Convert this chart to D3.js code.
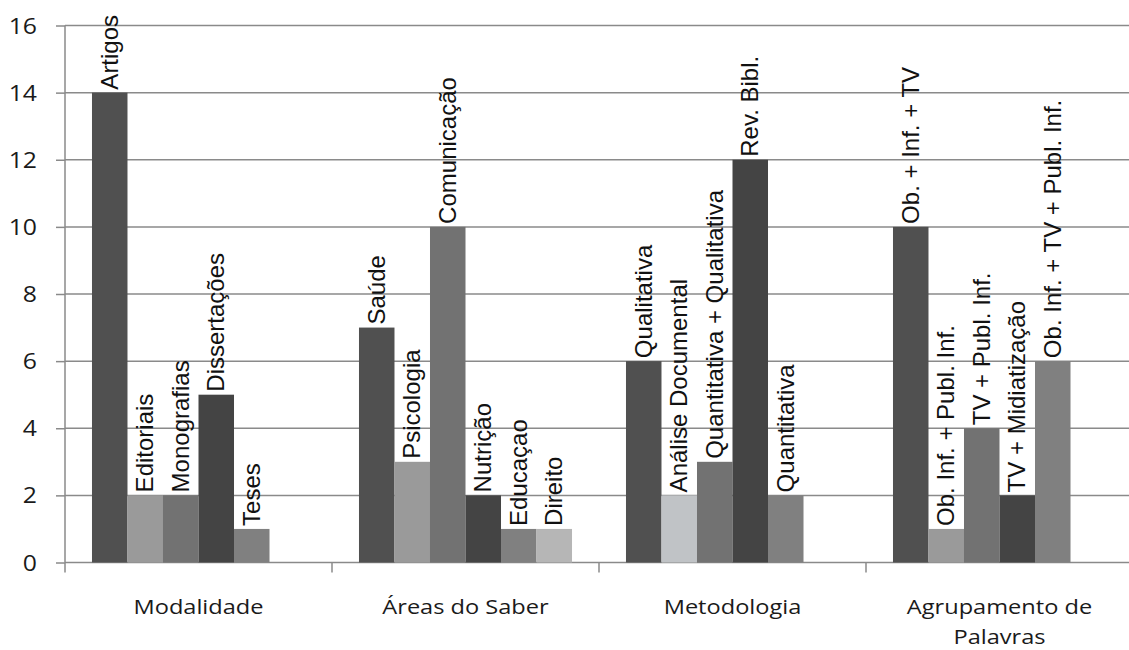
<!DOCTYPE html>
<html>
<head>
<meta charset="utf-8">
<script src="https://cdn.jsdelivr.net/npm/d3@7"></script>
<style>
  html, body { margin: 0; padding: 0; background: #ffffff; }
  svg { display: block; }
</style>
</head>
<body>
<svg id="chart" width="1129" height="650"></svg>
<script>
// Groups along the x axis
const groups = ["Modalidade", "Áreas do Saber", "Metodologia", "Agrupamento de Palavras"];

// Bar names and counts for each group
const modalidadeNames = ["Artigos", "Editoriais", "Monografias", "Dissertações", "Teses"];
const modalidadeValues = [14, 2, 2, 5, 1];

const areasNames = ["Saúde", "Psicologia", "Comunicação", "Nutrição", "Educaçao", "Direito"];
const areasValues = [7, 3, 10, 2, 1, 1];

const metodologiaNames = ["Qualitativa", "Análise Documental", "Quantitativa + Qualitativa", "Rev. Bibl.", "Quantitativa"];
const metodologiaValues = [6, 2, 3, 12, 2];

const agrupamentoNames = ["Ob. + Inf. + TV", "Ob. Inf. + Publ. Inf.", "TV + Publ. Inf.", "TV + Midiatização", "Ob. Inf. + TV + Publ. Inf."];
const agrupamentoValues = [10, 1, 4, 2, 6];

const yTicks = [0, 2, 4, 6, 8, 10, 12, 14, 16];

// Gray shades per bar slot
const slotShades = ["#505050", "#9a9a9a", "#727272", "#444444", "#808080", "#b6b6b6"];
const metodologiaShades = ["#505050", "#c0c3c6", "#727272", "#444444", "#808080"];

const groupNames = [modalidadeNames, areasNames, metodologiaNames, agrupamentoNames];
const groupValues = [modalidadeValues, areasValues, metodologiaValues, agrupamentoValues];
const groupShades = [slotShades, slotShades, metodologiaShades, slotShades];

const svg = d3.select("#chart");
const plotLeft = 65, plotRight = 1133, plotTop = 25.5, plotBottom = 562.5;
const gridColor = "#8a8a8a";
const axisFont = "'Open Sans', 'Liberation Sans', sans-serif";
const labelFont = "'Liberation Sans', Arial, sans-serif";
const stretch = 1.18;

const x = d3.scaleBand().domain(groups).range([plotLeft, plotRight]).padding(0);
const maxSlots = d3.max(groupValues, v => v.length);
const slot = d3.scaleBand().domain(d3.range(maxSlots)).range([0, x.bandwidth()]).paddingOuter(0.76).paddingInner(0);
const y = d3.scaleLinear().domain([0, 16]).range([plotBottom, plotTop]);

// Horizontal gridlines
svg.append("g")
  .selectAll("line")
  .data(yTicks.filter(t => t > 0))
  .join("line")
  .attr("x1", plotLeft).attr("x2", 1129)
  .attr("y1", d => y(d)).attr("y2", d => y(d))
  .attr("stroke", gridColor).attr("stroke-width", 1.5);

// Y axis
const yAxis = svg.append("g")
  .attr("transform", `translate(${plotLeft},0)`)
  .call(d3.axisLeft(y).tickValues(yTicks).tickSize(9).tickPadding(0).tickFormat(d3.format("d")));
yAxis.select(".domain").attr("stroke", gridColor).attr("stroke-width", 1.5).attr("d", `M0,${plotTop}V${plotBottom}`);
yAxis.selectAll(".tick line").attr("stroke", gridColor).attr("stroke-width", 1.5);
yAxis.selectAll(".tick text")
  .attr("x", 0).attr("dy", "0.36em")
  .attr("text-anchor", "end")
  .attr("transform", `translate(-28,0) scale(${stretch},1)`)
  .attr("fill", "#1a1a1a")
  .style("font-family", axisFont).style("font-size", "21px");

// X axis baseline and group divider ticks
const xAxis = svg.append("g")
  .attr("transform", `translate(0,${plotBottom})`);
xAxis.append("line")
  .attr("x1", plotLeft).attr("x2", 1129)
  .attr("stroke", gridColor).attr("stroke-width", 1.5);
xAxis.selectAll("line.div")
  .data(groups.map(g => x(g)).concat([plotRight]))
  .join("line")
  .attr("class", "div")
  .attr("x1", d => d).attr("x2", d => d)
  .attr("y1", 0).attr("y2", 10)
  .attr("stroke", gridColor).attr("stroke-width", 1.5);

// Group labels
const groupLines = ["Modalidade", "Áreas do Saber", "Metodologia", ["Agrupamento de", "Palavras"]];
groups.forEach((g, i) => {
  const lines = [].concat(groupLines[i]);
  const cx = x(g) + x.bandwidth() / 2;
  const t = svg.append("text")
    .attr("transform", `translate(${cx},614) scale(${stretch},1)`)
    .attr("text-anchor", "middle")
    .attr("fill", "#1a1a1a")
    .style("font-family", axisFont).style("font-size", "20px");
  lines.forEach((ln, k) => {
    t.append("tspan").attr("x", 0).attr("y", k * 30).text(ln);
  });
});

// Bars and their rotated name labels
groups.forEach((g, gi) => {
  const names = groupNames[gi], values = groupValues[gi], shades = groupShades[gi];
  const rows = values.map((v, i) => ({ v, name: names[i], i }));
  const gg = svg.append("g").attr("transform", `translate(${x(g)},0)`);
  gg.selectAll("rect")
    .data(rows)
    .join("rect")
    .attr("x", d => slot(d.i))
    .attr("width", slot.bandwidth())
    .attr("y", d => y(d.v))
    .attr("height", d => y(0) - y(d.v))
    .attr("fill", d => shades[d.i]);
  gg.selectAll("text")
    .data(rows)
    .join("text")
    .attr("transform", d => `translate(${slot(d.i) + slot.bandwidth() / 2 + 8},${y(d.v) - 3}) rotate(-90)`)
    .attr("text-anchor", "start")
    .attr("fill", "#111111")
    .style("font-family", labelFont).style("font-size", "24px")
    .text(d => d.name);
});
</script>
</body>
</html>
